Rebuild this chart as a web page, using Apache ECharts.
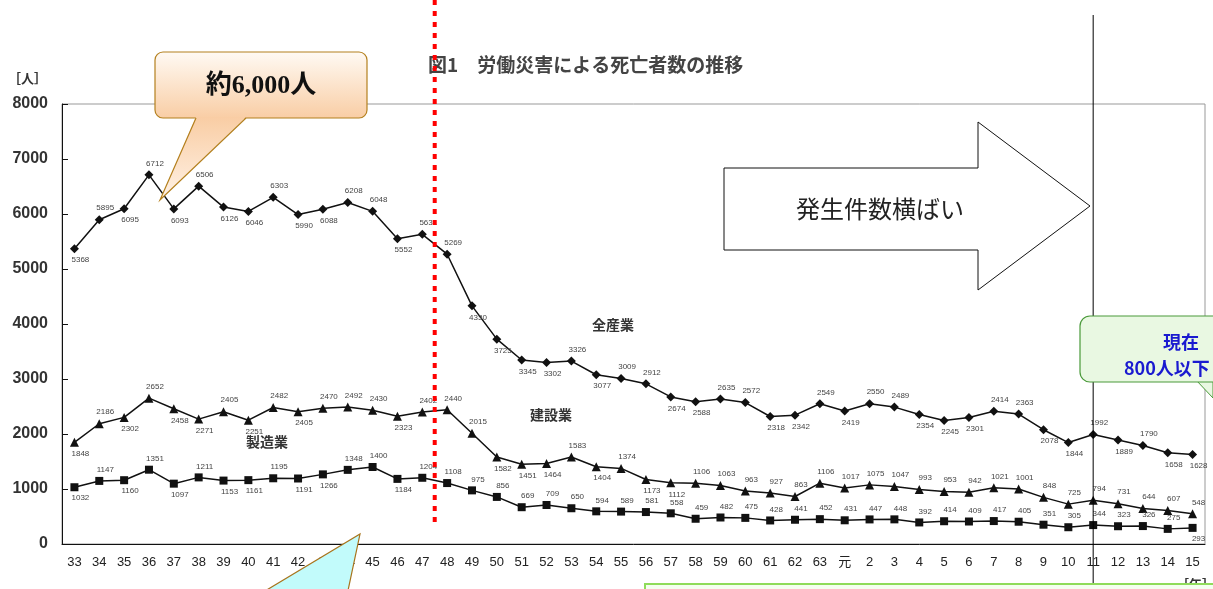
<!DOCTYPE html>
<html>
<head>
<meta charset="utf-8">
<script src="https://cdn.jsdelivr.net/npm/echarts@6/dist/echarts.min.js"></script>
<style>
  html, body { margin: 0; padding: 0; background: #fff; }
  #chart { width: 1213px; height: 589px; }
</style>
</head>
<body>
<div id="chart"></div>
<script>
// 年（昭和33〜63、平成元〜15）
const years = ['33','34','35','36','37','38','39','40','41','42','43','44','45','46','47','48','49','50',
  '51','52','53','54','55','56','57','58','59','60','61','62','63','元','2','3','4','5','6','7','8','9',
  '10','11','12','13','14','15'];

// 全産業
const allIndustry = [5368,5895,6095,6712,6093,6506,6126,6046,6303,5990,6088,6208,6048,5552,5631,5269,4330,3725,
  3345,3302,3326,3077,3009,2912,2674,2588,2635,2572,2318,2342,2549,2419,2550,2489,2354,2245,2301,2414,2363,2078,
  1844,1992,1889,1790,1658,1628];

// 建設業
const construction = [1848,2186,2302,2652,2458,2271,2405,2251,2482,2405,2470,2492,2430,2323,2402,2440,2015,1582,
  1451,1464,1583,1404,1374,1173,1112,1106,1063,963,927,863,1106,1017,1075,1047,993,953,942,1021,1001,848,
  725,794,731,644,607,548];

// 製造業
const manufacturing = [1032,1147,1160,1351,1097,1211,1153,1161,1195,1191,1266,1348,1400,1184,1204,1108,975,856,
  669,709,650,594,589,581,558,459,482,475,428,441,452,431,447,448,392,414,409,417,405,351,
  305,344,323,326,275,293];

const yTicks = [0,1000,2000,3000,4000,5000,6000,7000,8000];

const jp = '"Noto Sans CJK JP", sans-serif';

// ラベルを上か下かに振り分ける（allTopFrom以降は上、最後だけ下にする指定あり）
function withLabels(arr, allTopFrom, lastBelow) {
  return arr.map((v, i) => {
    const prev = i > 0 ? arr[i - 1] : v;
    const next = i < arr.length - 1 ? arr[i + 1] : v;
    let up = v >= (prev + next) / 2;
    if (i >= allTopFrom) up = true;
    if (lastBelow && i === arr.length - 1) up = false;
    return {
      value: v,
      label: { position: up ? 'top' : 'bottom', offset: [6, 0] }
    };
  });
}

function lineSeries(name, arr, symbol, size, allTopFrom, lastBelow) {
  return {
    name: name,
    type: 'line',
    data: withLabels(arr, allTopFrom, lastBelow),
    symbol: symbol,
    symbolSize: size,
    lineStyle: { color: '#111', width: 1.5 },
    itemStyle: { color: '#111' },
    label: {
      show: true,
      fontSize: 8,
      color: '#444',
      fontFamily: 'Liberation Sans, sans-serif',
      distance: 3
    },
    animation: false
  };
}

const chart = echarts.init(document.getElementById('chart'));

chart.setOption({
  backgroundColor: '#fff',
  grid: {
    left: 62, right: 8, top: 104, bottom: 45,
    show: true, borderColor: '#999', borderWidth: 1
  },
  xAxis: {
    type: 'category',
    data: years,
    boundaryGap: true,
    axisLine: { lineStyle: { color: '#111', width: 1 } },
    axisTick: { inside: true, length: 6, lineStyle: { color: '#111' } },
    axisLabel: {
      color: '#222', fontSize: 13, margin: 12, interval: 0,
      fontFamily: '"Liberation Sans", "Noto Sans CJK JP", sans-serif'
    },
    splitLine: { show: false }
  },
  yAxis: {
    type: 'value',
    min: yTicks[0],
    max: yTicks[yTicks.length - 1],
    interval: 1000,
    axisLine: { show: true, lineStyle: { color: '#111', width: 1 } },
    axisTick: { show: true, inside: true, length: 6, lineStyle: { color: '#111' } },
    axisLabel: {
      color: '#333', fontSize: 16, fontWeight: 'bold', margin: 14,
      fontFamily: '"Liberation Sans", sans-serif',
      formatter: v => String(v)
    },
    splitLine: { show: false }
  },
  series: [
    lineSeries('全産業', allIndustry, 'diamond', 9, 999, false),
    lineSeries('建設業', construction, 'triangle', 9, 27, false),
    lineSeries('製造業', manufacturing, 'rect', 8, 15, true)
  ]
});

// 注釈（カテゴリ位置はconvertToPixelで取る）
const x47 = chart.convertToPixel({ xAxisIndex: 0 }, '47');
const x48 = chart.convertToPixel({ xAxisIndex: 0 }, '48');
const x11 = chart.convertToPixel({ xAxisIndex: 0 }, '11');
const redX = (x47 + x48) / 2;

chart.setOption({
  graphic: [
    // タイトル
    { type: 'text', x: 428, y: 55,
      style: { text: '図1　労働災害による死亡者数の推移', font: 'bold 19px ' + jp, fill: '#444' } },
    { type: 'text', x: 8, y: 72,
      style: { text: '［人］', font: 'bold 13px ' + jp, fill: '#333' } },
    // 系列名
    { type: 'text', x: 592, y: 318, style: { text: '全産業', font: 'bold 14px ' + jp, fill: '#333' } },
    { type: 'text', x: 530, y: 408, style: { text: '建設業', font: 'bold 14px ' + jp, fill: '#333' } },
    { type: 'text', x: 246, y: 435, style: { text: '製造業', font: 'bold 14px ' + jp, fill: '#333' } },
    // 赤点線
    { type: 'line', z: 50, shape: { x1: redX, y1: 0, x2: redX, y2: 525 },
      style: { stroke: '#ff0000', lineWidth: 4, lineDash: [5, 6] } },
    // 11年の縦線
    { type: 'line', z: 50, shape: { x1: x11, y1: 15, x2: x11, y2: 589 },
      style: { stroke: '#000', lineWidth: 1 } },
    // 約6,000人 吹き出し
    { type: 'rect', z: 60, shape: { x: 155, y: 52, width: 212, height: 66, r: 8 },
      style: {
        fill: new echarts.graphic.LinearGradient(0, 0, 0, 1, [
          { offset: 0, color: '#fffaf4' }, { offset: 1, color: '#f9cda4' }
        ]),
        stroke: '#b4801e', lineWidth: 1.2
      } },
    { type: 'polygon', z: 61, shape: { points: [[196, 117], [246, 117], [160, 200]] },
      style: {
        fill: new echarts.graphic.LinearGradient(0, 0, 0, 1, [
          { offset: 0, color: '#f9cda4' }, { offset: 1, color: '#fff2e6' }
        ])
      } },
    { type: 'polyline', z: 62, shape: { points: [[196, 118], [160, 200], [246, 118]] },
      style: { stroke: '#b4801e', lineWidth: 1.2, fill: null } },
    { type: 'text', z: 63, x: 261, y: 86,
      style: { text: '約6,000人', font: 'bold 26px "Liberation Serif", "Noto Sans CJK JP", serif',
        fill: '#111', align: 'center', verticalAlign: 'middle' } },
    // 矢印
    { type: 'polygon', z: 60,
      shape: { points: [[724, 168], [978, 168], [978, 122], [1090, 206], [978, 290], [978, 250], [724, 250]] },
      style: { fill: '#fff', stroke: '#111', lineWidth: 1 } },
    { type: 'text', z: 61, x: 880, y: 209,
      style: { text: '発生件数横ばい', font: '24px ' + jp, fill: '#222', align: 'center', verticalAlign: 'middle' } },
    // 右の緑の吹き出し
    { type: 'polygon', z: 60, shape: { points: [[1196, 380], [1213, 380], [1213, 398]] },
      style: { fill: '#e9f8e2', stroke: '#4a9a3a', lineWidth: 1 } },
    { type: 'rect', z: 61, shape: { x: 1080, y: 316, width: 160, height: 66, r: 10 },
      style: { fill: '#e9f8e2', stroke: '#4a9a3a', lineWidth: 1.2 } },
    { type: 'text', z: 62, x: 1163, y: 333,
      style: { text: '現在', font: 'bold 18px ' + jp, fill: '#1a1ad0' } },
    { type: 'text', z: 62, x: 1124, y: 359,
      style: { text: '800人以下', font: 'bold 18px ' + jp, fill: '#1a1ad0' } },
    // 下の水色の吹き出し
    { type: 'polygon', z: 60, shape: { points: [[250, 600], [360, 534], [346, 600]] },
      style: { fill: '#c2fbfb', stroke: '#a8741c', lineWidth: 1.2 } },
    // 下の緑の枠
    { type: 'rect', z: 60, shape: { x: 645, y: 584, width: 600, height: 30 },
      style: { fill: '#f4fff0', stroke: '#8fdc5a', lineWidth: 2 } },
    { type: 'text', z: 59, x: 1176, y: 578,
      style: { text: '［年］', font: 'bold 13px ' + jp, fill: '#333' } }
  ]
});
</script>
</body>
</html>
